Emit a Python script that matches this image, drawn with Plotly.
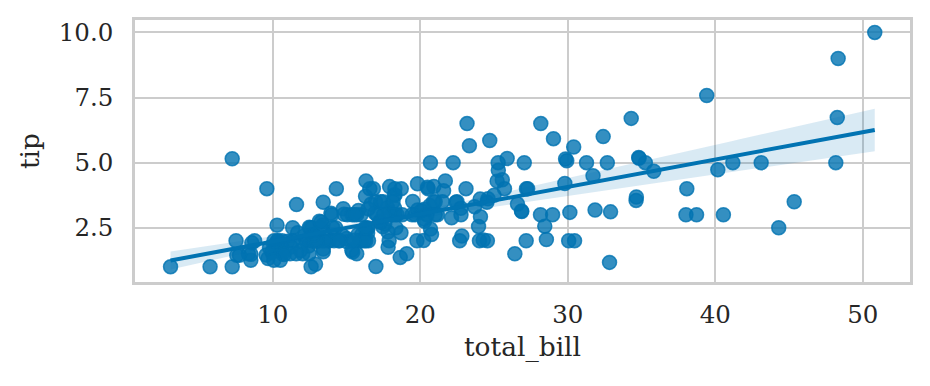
import numpy as np
import plotly.graph_objects as go

total_bill = [16.99,10.34,21.01,23.68,24.59,25.29,8.77,26.88,15.04,14.78,10.27,35.26,15.42,18.43,14.83,21.58,10.33,16.29,16.97,20.65,
17.92,20.29,15.77,39.42,19.82,17.81,13.37,12.69,21.7,19.65,9.55,18.35,15.06,20.69,17.78,24.06,16.31,16.93,18.69,31.27,
16.04,17.46,13.94,9.68,30.4,18.29,22.23,32.4,28.55,18.04,12.54,10.29,34.81,9.94,25.56,19.49,38.01,26.41,11.24,48.27,
20.29,13.81,11.02,18.29,17.59,20.08,16.45,3.07,20.23,15.01,12.02,17.07,26.86,25.28,14.73,10.51,17.92,27.2,22.76,17.29,
19.44,16.66,10.07,32.68,15.98,34.83,13.03,18.28,24.71,21.16,28.97,22.49,5.75,16.32,22.75,40.17,27.28,12.03,21.01,12.46,
11.35,15.38,44.3,22.42,20.92,15.36,20.49,25.21,18.24,14.31,14.0,7.25,38.07,23.95,25.71,17.31,29.93,10.65,12.43,24.08,
11.69,13.42,14.26,15.95,12.48,29.8,8.52,14.52,11.38,22.82,19.08,20.27,11.17,12.26,18.26,8.51,10.33,14.15,16.0,13.16,
17.47,34.3,41.19,27.05,16.43,8.35,18.64,11.87,9.78,7.51,14.07,13.13,17.26,24.55,19.77,29.85,48.17,25.0,13.39,16.49,
21.5,12.66,16.21,13.81,17.51,24.52,20.76,31.71,10.59,10.63,50.81,15.81,7.25,31.85,16.82,32.9,17.89,14.48,9.6,34.63,
34.65,23.33,45.35,23.17,40.55,20.69,20.9,30.46,18.15,23.1,15.69,19.81,28.44,15.48,16.58,7.56,10.34,43.11,13.0,13.51,
18.71,12.74,13.0,16.4,20.53,16.47,26.59,38.73,24.27,12.76,30.06,25.89,48.33,13.27,28.17,12.9,28.15,11.59,7.74,30.14,
12.16,13.42,8.58,15.98,13.42,16.27,10.09,20.45,13.28,22.12,24.01,15.69,11.61,10.77,15.53,10.07,12.6,32.83,35.83,29.03,
27.18,22.67,17.82,18.78]

tip = [1.01,1.66,3.5,3.31,3.61,4.71,2.0,3.12,1.96,3.23,1.71,5.0,1.57,3.0,3.02,3.92,1.67,3.71,3.5,3.35,
4.08,2.75,2.23,7.58,3.18,2.34,2.0,2.0,4.3,3.0,1.45,2.5,3.0,2.45,3.27,3.6,2.0,3.07,2.31,5.0,
2.24,2.54,3.06,1.32,5.6,3.0,5.0,6.0,2.05,3.0,2.5,2.6,5.2,1.56,4.34,3.51,3.0,1.5,1.76,6.73,
3.21,2.0,1.98,3.76,2.64,3.15,2.47,1.0,2.01,2.09,1.97,3.0,3.14,5.0,2.2,1.25,3.08,4.0,3.0,2.71,
3.0,3.4,1.83,5.0,2.03,5.17,2.0,4.0,5.85,3.0,3.0,3.5,1.0,4.3,3.25,4.73,4.0,1.5,3.0,1.5,
2.5,3.0,2.5,3.48,4.08,1.64,4.06,4.29,3.76,4.0,3.0,1.0,4.0,2.55,4.0,3.5,5.07,1.5,1.8,2.92,
2.31,1.68,2.5,2.0,2.52,4.2,1.48,2.0,2.0,2.18,1.5,2.83,1.5,2.0,3.25,1.25,2.0,2.0,2.0,2.75,
3.5,6.7,5.0,5.0,2.3,1.5,1.36,1.63,1.73,2.0,2.5,2.0,2.74,2.0,2.0,5.14,5.0,3.75,2.61,2.0,
3.5,2.5,2.0,2.0,3.0,3.48,2.24,4.5,1.61,2.0,10.0,3.16,5.15,3.18,4.0,3.11,2.0,2.0,4.0,3.55,
3.68,5.65,3.5,6.5,3.0,5.0,3.5,2.0,3.5,4.0,1.5,4.19,2.56,2.02,4.0,1.44,2.0,5.0,2.0,2.0,
4.0,2.01,2.0,2.5,4.0,3.23,3.41,3.0,2.03,2.23,2.0,5.16,9.0,2.5,6.5,1.1,3.0,1.5,1.44,3.09,
2.2,3.48,1.92,3.0,1.58,2.5,2.0,3.0,2.72,2.88,2.0,3.0,3.39,1.47,3.0,1.25,1.0,1.17,4.67,5.92,
2.0,2.0,1.75,3.0]

x_ticks = [10, 20, 30, 40, 50]
y_ticks = [2.5, 5.0, 7.5, 10.0]

x = np.array(total_bill, dtype=float)
y = np.array(tip, dtype=float)
n = min(len(x), len(y))
x, y = x[:n], y[:n]

# OLS fit with heteroscedasticity-robust (HC3) confidence band
X = np.column_stack([np.ones(n), x])
XtX_inv = np.linalg.inv(X.T @ X)
beta = XtX_inv @ X.T @ y
resid = y - X @ beta
h = np.einsum("ij,jk,ik->i", X, XtX_inv, X)
w = resid**2 / (1 - h) ** 2
meat = X.T @ (X * w[:, None])
cov = XtX_inv @ meat @ XtX_inv

grid = np.linspace(x.min(), x.max(), 100)
G = np.column_stack([np.ones_like(grid), grid])
yhat = G @ beta
se = np.sqrt(np.einsum("ij,jk,ik->i", G, cov, G))
lo = yhat - 1.96 * se
hi = yhat + 1.96 * se

blue = "#0173b2"
fig = go.Figure()
fig.add_trace(go.Scatter(
    x=x, y=y, mode="markers",
    marker=dict(size=14, color="rgba(1,115,178,0.8)",
                line=dict(color="rgba(1,115,178,0.8)", width=1.5)),
    showlegend=False, hoverinfo="skip"))
fig.add_trace(go.Scatter(
    x=np.concatenate([grid, grid[::-1]]), y=np.concatenate([hi, lo[::-1]]),
    fill="toself", fillcolor="rgba(1,115,178,0.15)", line=dict(width=0),
    mode="lines", showlegend=False, hoverinfo="skip"))
fig.add_trace(go.Scatter(
    x=grid, y=yhat, mode="lines", line=dict(color=blue, width=4),
    showlegend=False, hoverinfo="skip"))

font_family = "DejaVu Serif"
fig.update_layout(
    width=930, height=386,
    margin=dict(l=135, r=20, t=19.5, b=103.5),
    paper_bgcolor="white", plot_bgcolor="white",
    font=dict(family=font_family, color="#262626", size=24),
)
fig.update_xaxes(
    range=[0.66, 53.2], tickvals=x_ticks, ticktext=[str(v) for v in x_ticks],
    showgrid=True, gridcolor="#cccccc", gridwidth=2,
    showline=True, linecolor="#cccccc", linewidth=2.5, mirror=True,
    zeroline=False, ticks="outside", ticklen=9, tickcolor="rgba(0,0,0,0)",
    tickfont=dict(size=24.5),
    title=dict(text="total_bill", font=dict(size=26.5), standoff=10),
)
fig.update_yaxes(
    range=[0.417, 10.478], tickvals=y_ticks, ticktext=[f"{v:.1f}" for v in y_ticks],
    showgrid=True, gridcolor="#cccccc", gridwidth=2,
    showline=True, linecolor="#cccccc", linewidth=2.5, mirror=True,
    zeroline=False, ticks="outside", ticklen=14, tickcolor="rgba(0,0,0,0)",
    tickfont=dict(size=24.5),
    title=dict(text="tip", font=dict(size=26.5), standoff=12),
)
fig.write_html("out.html")
